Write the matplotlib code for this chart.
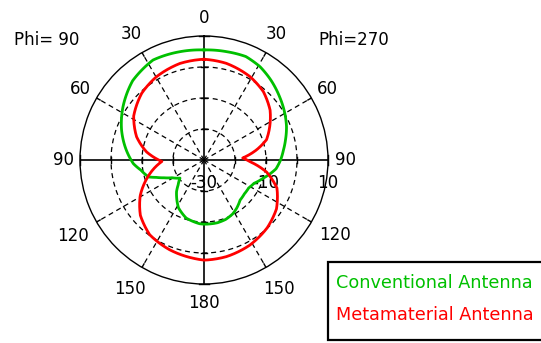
import numpy as np
import matplotlib
matplotlib.use("Agg")
import matplotlib.pyplot as plt
from matplotlib.patches import Rectangle
from matplotlib.transforms import offset_copy

# Elevation pattern: angle in degrees measured clockwise from the top
# (0-180 = Phi=270 half, 180-360 = Phi=90 half), gain in dB.
conventional_theta = [0, 12, 22, 31, 40, 50, 60, 68, 76, 83, 90, 97, 107, 115,
                      122, 130, 138, 146, 152, 160, 168, 180, 184, 197, 208, 217,
                      221, 226, 233, 241, 246, 250, 253, 261, 267, 277, 290, 303,
                      318, 333, 347, 360]
conventional_gain = [5.5, 5.7, 6.0, 5.1, 3.6, 1.8, 0.1, -1.3, -2.9, -4.2, -5.3,
                     -6.6, -10.0, -12.2, -13.0, -13.0, -12.6, -11.2, -10.3, -9.6,
                     -9.3, -9.3, -9.4, -10.4, -12.5, -15.3, -16.5, -18.4, -20.3,
                     -18.2, -15.9, -13.6, -11.3, -9.35, -7.2, -4.8, -1.7, 1.2, 4.4,
                     6.2, 5.8, 5.5]

metamaterial_theta = [0, 13, 29, 41, 53, 63, 72, 79, 87, 92, 101, 111, 124, 137,
                      152, 167, 180, 186, 201, 216, 229, 241, 252, 268, 278, 289,
                      302, 317, 330, 346, 360]
metamaterial_gain = [2.5, 2.0, 0.7, -0.8, -3.3, -6.2, -8.8, -12.7, -17.5, -15.2,
                     -9.4, -4.8, -1.8, -0.1, 1.2, 2.0, 2.3, 1.9, 1.0, -0.2, -2.8,
                     -6.5, -10.6, -16.4, -11.3, -7.0, -3.25, -0.55, 0.9, 2.1, 2.5]

series_names = ["Conventional Antenna", "Metamaterial Antenna"]
series_colors = ["#00c000", "#ff0000"]

angle_ticks = [0, 30, 60, 90, 120, 150, 180, 210, 240, 270, 300, 330]
angle_labels = ["0", "30", "60", "90", "120", "150", "180",
                "150", "120", "90", "60", "30"]
r_min, r_max = -30, 10
ring_values = [-20, -10, 0]
radial_label_values = [-30, -10, 10]
plane_labels = ["Phi= 90", "Phi=270"]

W, H = 541, 343
cx, cy, R = 204, 160, 124          # centre and radius of the polar frame (px)

fig = plt.figure(figsize=(W / 100, H / 100), dpi=100)
fig.patch.set_facecolor("white")
ax = fig.add_axes([(cx - R) / W, 1 - (cy + R) / H, 2 * R / W, 2 * R / H],
                  projection="polar")
ax.set_theta_zero_location("N")
ax.set_theta_direction(-1)
ax.set_ylim(r_min, r_max)
ax.set_xticks([])
ax.set_yticks([])
ax.grid(False)
ax.spines["polar"].set_linewidth(1.0)
ax.spines["polar"].set_color("black")

dash = (0, (4, 3))
full = np.linspace(0, 2 * np.pi, 600)
for rv in ring_values:
    ax.plot(full, np.full_like(full, rv), color="black", lw=0.9, ls=dash)
for a in angle_ticks:
    if a % 90:
        ax.plot([np.deg2rad(a)] * 2, [r_min, r_max], color="black", lw=0.9, ls=dash)
for a in (0, 90, 180, 270):
    ax.plot([np.deg2rad(a)] * 2, [r_min, r_max], color="black", lw=1.2)

# small ticks across the axis lines at each ring, and at the frame
px = 1.0 / (2 * R)
for rv in ring_values + [r_max]:
    f = (rv - r_min) / (r_max - r_min) * 0.5
    h = (5 if rv == r_max else 3) * px
    for s in (-1, 1):
        ax.plot([0.5 + s * f] * 2, [0.5 - h, 0.5 + h], color="black", lw=1.0,
                transform=ax.transAxes, clip_on=False)
        ax.plot([0.5 - h, 0.5 + h], [0.5 + s * f] * 2, color="black", lw=1.0,
                transform=ax.transAxes, clip_on=False)
# ticks on the outer circle
for a in angle_ticks:
    if a % 90:
        t = np.deg2rad(a)
        ax.plot([t, t], [r_max - 4 * (r_max - r_min) / R, r_max], color="black", lw=1.0)

# pattern curves, segments drawn as arcs in (theta, r)
for th, g, c, z in ((conventional_theta, conventional_gain, series_colors[0], 5),
                    (metamaterial_theta, metamaterial_gain, series_colors[1], 6)):
    ln, = ax.plot(np.deg2rad(th), g, color=c, lw=2.0, zorder=z,
                  solid_joinstyle="round")
    ln.get_path()._interpolation_steps = 24

# angle labels around the frame
label_radius_px = {0: 142, 30: 145, 60: 143, 90: 141, 120: 151, 150: 149, 180: 143}
for a, lab in zip(angle_ticks, angle_labels):
    rp = label_radius_px[min(a, 360 - a)]
    ax.text(np.deg2rad(a), r_min + rp / R * (r_max - r_min), lab,
            ha="center", va="center", fontsize=12, family="DejaVu Sans",
            clip_on=False)

# radial scale labels below the horizontal axis
below = offset_copy(ax.transData, fig=fig, x=0, y=-23, units="dots")
for rv in radial_label_values:
    ax.text(np.deg2rad(90), rv, str(rv), transform=below, ha="center",
            va="center", fontsize=12, family="DejaVu Sans", clip_on=False,
            zorder=4)

fig.text(47 / W, 1 - 40 / H, plane_labels[0], ha="center", va="center",
         fontsize=12, family="DejaVu Sans")
fig.text(354 / W, 1 - 40 / H, plane_labels[1], ha="center", va="center",
         fontsize=12, family="DejaVu Sans")

# legend box
fig.patches.append(Rectangle((328 / W, 1 - 340 / H), 230 / W, 78 / H,
                             transform=fig.transFigure, facecolor="white",
                             edgecolor="black", lw=1.6))
fig.text(336 / W, 1 - 283 / H, series_names[0], color=series_colors[0],
         ha="left", va="center", fontsize=12.7, family="DejaVu Sans")
fig.text(336 / W, 1 - 315 / H, series_names[1], color=series_colors[1],
         ha="left", va="center", fontsize=12.7, family="DejaVu Sans")

fig.savefig("out.png", dpi=100, facecolor="white")
